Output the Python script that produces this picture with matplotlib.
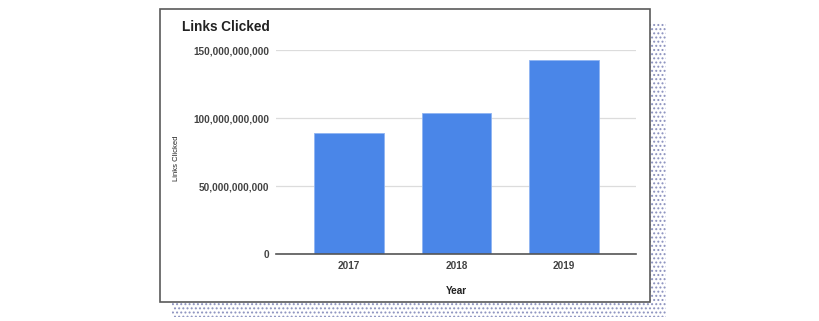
import matplotlib
matplotlib.use("Agg")
import matplotlib.pyplot as plt
from matplotlib.patches import Rectangle
from matplotlib.ticker import FuncFormatter

years = ["2017", "2018", "2019"]
links_clicked = [89_000_000_000, 103_500_000_000, 142_500_000_000]
y_ticks = [0, 50_000_000_000, 100_000_000_000, 150_000_000_000]

plt.rcParams['font.family'] = ['Liberation Sans', 'DejaVu Sans']
plt.rcParams['hatch.linewidth'] = 0.9
plt.rcParams['hatch.color'] = '#8c92bf'

W, H = 820, 321
fig = plt.figure(figsize=(W / 100, H / 100), dpi=100)
fig.patch.set_facecolor('white')

def px(x0, y0, x1, y1):
    # pixel box (top-left origin) -> figure fraction rect
    return (x0 / W, 1 - y1 / H, (x1 - x0) / W, (y1 - y0) / H)

# dotted shadow
sx, sy, sw, sh = px(172, 23, 666, 317)
fig.patches.append(Rectangle((sx, sy), sw, sh, transform=fig.transFigure,
                             facecolor='white', edgecolor='#8c92bf', hatch='....',
                             linewidth=0, zorder=0))
# white card with border
bx, by, bw, bh = px(160, 9, 650, 302)
fig.patches.append(Rectangle((bx, by), bw, bh, transform=fig.transFigure,
                             facecolor='white', edgecolor='#5a5a5a',
                             linewidth=1.2, zorder=1))

ax = fig.add_axes(px(276, 50, 636, 254), zorder=2)
ax.set_facecolor('none')
x = range(len(years))
ax.bar(x, links_clicked, width=0.65, color='#4a86e8', edgecolor='#8fb4f2',
       linewidth=0.6, zorder=3)
ax.set_xlim(-0.68, 2.67)
ax.set_ylim(0, 150_000_000_000)
ax.set_yticks(y_ticks)
ax.yaxis.set_major_formatter(FuncFormatter(lambda v, p: f"{int(v):,}"))
ax.set_xticks(list(x))
ax.set_xticklabels(years)
ax.grid(axis='y', color='#dcdcdc', linewidth=0.9, zorder=0)
ax.set_axisbelow(True)
for s in ['top', 'right', 'left']:
    ax.spines[s].set_visible(False)
ax.spines['bottom'].set_color('#555555')
ax.spines['bottom'].set_linewidth(1.2)
ax.spines['bottom'].set_zorder(4)
ax.tick_params(axis='both', length=0, labelsize=7.2, labelcolor='#222222')
ax.tick_params(axis='y', pad=5)
ax.tick_params(axis='x', pad=5)
for lab in ax.get_yticklabels() + ax.get_xticklabels():
    lab.set_fontweight('bold')
    lab.set_alpha(0.85)

ax.set_xlabel('Year', fontsize=7.2, fontweight='bold', color='#222222', labelpad=11)
fig.text(177 / W, 1 - 158 / H, 'Links Clicked', rotation=90, fontsize=5.5,
         ha='center', va='center', color='#222222', zorder=3)
fig.text(182 / W, 1 - 27 / H, 'Links Clicked', fontsize=9.8, fontweight='bold',
         ha='left', va='center', color='#222222', zorder=3)

fig.savefig('out.png', dpi=100, facecolor='white')
